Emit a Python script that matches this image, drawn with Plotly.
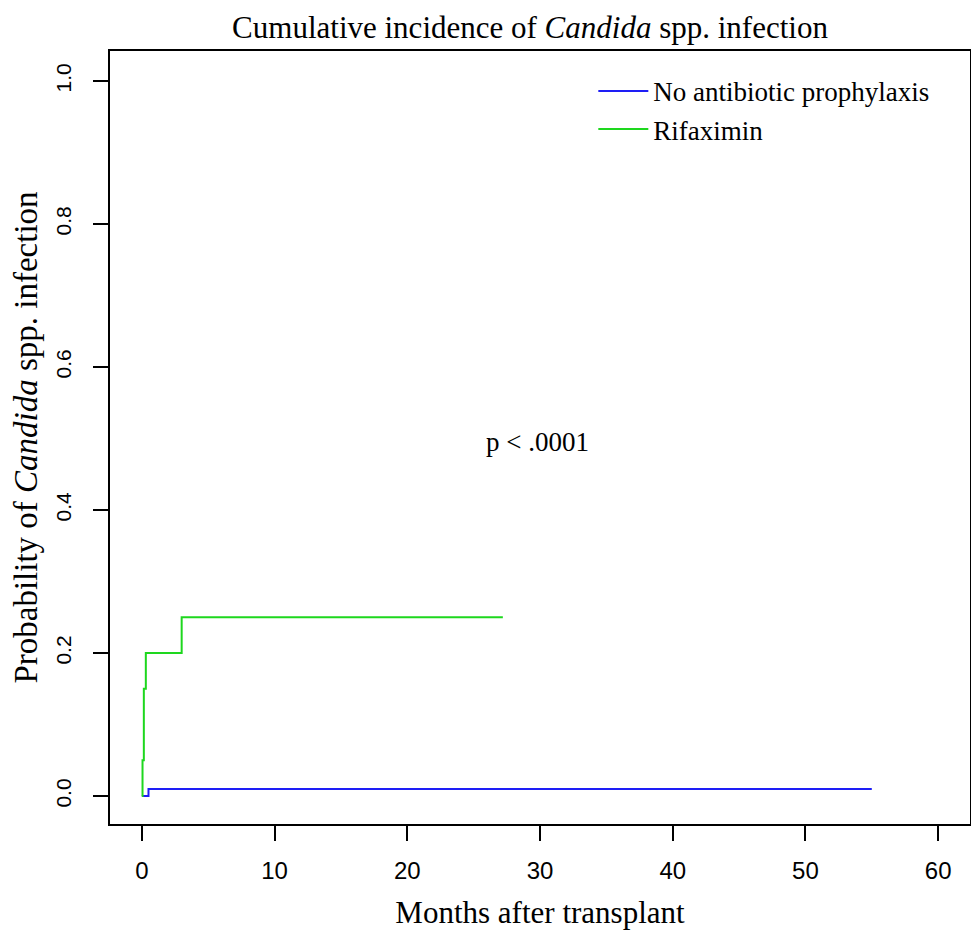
import plotly.graph_objects as go

# Data
months_none = [0, 0.5, 55.0]
prob_none = [0, 0.01, 0.01]
months_rif = [0, 0.05, 0.15, 0.3, 3.0, 27.2]
prob_rif = [0, 0.05, 0.15, 0.20, 0.25, 0.25]
x_ticks = [0, 10, 20, 30, 40, 50, 60]
y_ticks = [0.0, 0.2, 0.4, 0.6, 0.8, 1.0]
y_tick_labels = ["0.0", "0.2", "0.4", "0.6", "0.8", "1.0"]

SERIF = "Liberation Serif, Times New Roman, serif"
SANS = "Liberation Sans, Arial, sans-serif"

fig = go.Figure()
fig.add_trace(go.Scatter(x=months_none, y=prob_none, mode="lines", line_shape="hv",
                         line=dict(color="rgb(30,30,245)", width=2),
                         name="No antibiotic prophylaxis"))
fig.add_trace(go.Scatter(x=months_rif, y=prob_rif, mode="lines", line_shape="hv",
                         line=dict(color="rgb(30,215,30)", width=2),
                         name="Rifaximin"))

fig.add_annotation(x=29.8, y=0.495, xref="x", yref="y", text="p < .0001",
                   showarrow=False, font=dict(family=SERIF, size=27, color="black"))

fig.update_layout(
    width=971, height=935,
    margin=dict(l=110, r=1, t=51, b=111),
    paper_bgcolor="white", plot_bgcolor="white",
    title=dict(text="Cumulative incidence of <i>Candida</i> spp. infection",
               x=530 / 971, xanchor="center", y=1 - 27 / 935, yanchor="middle",
               font=dict(family=SERIF, size=31, color="black")),
    showlegend=True,
    legend=dict(x=0.562, y=0.9795, xanchor="left", yanchor="top",
                bgcolor="rgba(0,0,0,0)", font=dict(family=SERIF, size=27, color="black"),
                itemwidth=50, tracegroupgap=0),
    xaxis=dict(range=[-2.4, 62.4], tickvals=x_ticks, ticks="outside", ticklen=15,
               tickwidth=1.5, tickcolor="black", showgrid=False, zeroline=False,
               showline=True, linecolor="black", linewidth=1.5, mirror=True,
               automargin=False, ticklabelstandoff=9,
               tickfont=dict(family=SANS, size=24, color="black"),
               title=dict(text="Months after transplant", standoff=19,
                          font=dict(family=SERIF, size=31, color="black"))),
    yaxis=dict(range=[-0.039, 1.042], tickvals=y_ticks, ticktext=y_tick_labels,
               ticks="outside", ticklen=15, tickwidth=1.5, tickcolor="black",
               tickangle=-90, showgrid=False, zeroline=False,
               showline=True, linecolor="black", linewidth=1.5, mirror=True,
               automargin=False, ticklabelstandoff=14,
               tickfont=dict(family=SANS, size=21, color="black"),
               title=dict(text="Probability of <i>Candida</i> spp. infection", standoff=4,
                          font=dict(family=SERIF, size=33, color="black"))),
)

fig.write_html("out.html", config={"displayModeBar": False},
               post_script="document.body.style.margin='0';")
